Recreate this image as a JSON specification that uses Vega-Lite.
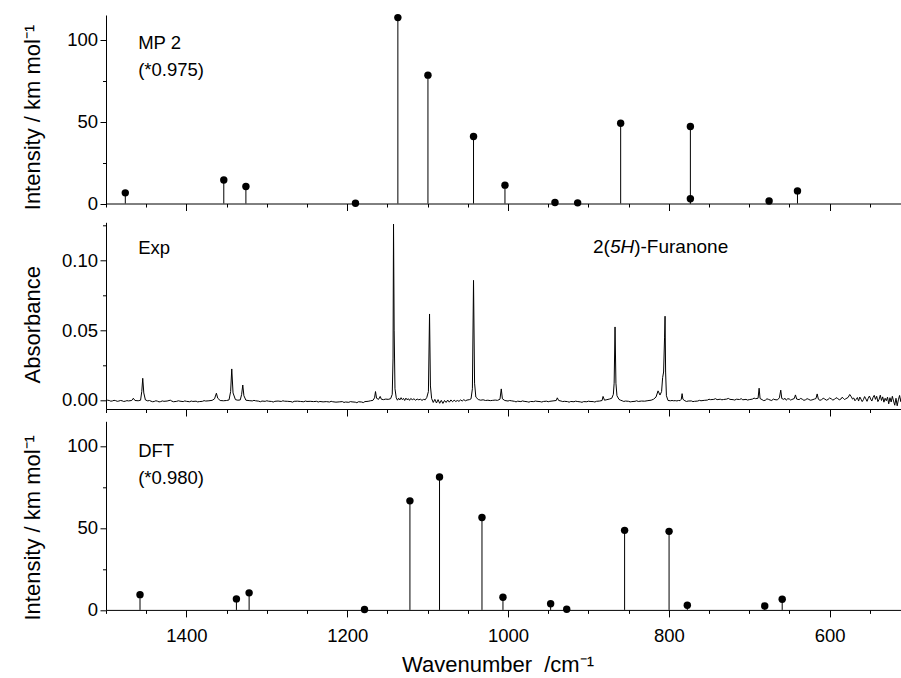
{
  "$schema": "https://vega.github.io/schema/vega-lite/v6.json",
  "padding": {"left": 20, "top": 13, "right": 0, "bottom": 0},
  "bounds": "flush",
  "spacing": 18.3,
  "config": {
    "font": "Liberation Sans",
    "view": {"stroke": null},
    "axis": {"domainColor": "#000", "tickColor": "#000", "labelColor": "#000", "titleColor": "#000", "grid": false, "labelFont": "Liberation Sans", "titleFont": "Liberation Sans", "labelFontSize": 18.5, "titleFontSize": 22, "titleFontWeight": "normal", "domainWidth": 1, "tickWidth": 1},
    "text": {"font": "Liberation Sans", "fontSize": 18.5, "color": "#000"}
  },
  "datasets": {
    "mp2": [
      {"w": 1476, "v": 6.5}, {"w": 1353.5, "v": 14.3}, {"w": 1326, "v": 10.4}, {"w": 1189.7, "v": 0.2},
      {"w": 1137, "v": 113.4}, {"w": 1099.6, "v": 78.3}, {"w": 1042.9, "v": 40.9}, {"w": 1003.8, "v": 11.2},
      {"w": 941.6, "v": 0.6}, {"w": 913.4, "v": 0.4}, {"w": 859.9, "v": 49}, {"w": 773.2, "v": 47},
      {"w": 773.2, "v": 2.9}, {"w": 675.3, "v": 1.5}, {"w": 640, "v": 7.7}
    ],
    "dft": [
      {"w": 1457.7, "v": 9.3}, {"w": 1337.8, "v": 6.7}, {"w": 1322, "v": 10.4}, {"w": 1178.5, "v": 0.2},
      {"w": 1122, "v": 66.5}, {"w": 1085.2, "v": 81}, {"w": 1032.4, "v": 56.3}, {"w": 1006.3, "v": 7.7},
      {"w": 947, "v": 3.7}, {"w": 927, "v": 0.4}, {"w": 855, "v": 48.5}, {"w": 799.7, "v": 47.9},
      {"w": 777, "v": 2.8}, {"w": 680.7, "v": 2.4}, {"w": 659, "v": 6.5}
    ],
    "notes": [
      {"p": "mp2", "w": 1460, "v": 94.5, "t": "MP 2"},
      {"p": "mp2", "w": 1460, "v": 77.9, "t": "(*0.975)"},
      {"p": "exp", "w": 1460, "v": 0.1046, "t": "Exp"},
      {"p": "dft", "w": 1460, "v": 93.3, "t": "DFT"},
      {"p": "dft", "w": 1460, "v": 77.0, "t": "(*0.980)"},
      {"p": "fur1", "w": 894.3, "v": 0.1053, "t": "2("},
      {"p": "fur2", "w": 894.3, "v": 0.1053, "t": "5H"},
      {"p": "fur3", "w": 894.3, "v": 0.1053, "t": ")-Furanone"}
    ],
    "exp": [
      {"w": 1500, "v": -0.0006}, {"w": 1498, "v": -0.0002}, {"w": 1496, "v": -0.0004}, {"w": 1494, "v": -0.0009}, {"w": 1492, "v": -0.0007}, {"w": 1490, "v": -0.0003}, {"w": 1488, "v": -0.0005},
      {"w": 1486, "v": -0.0010}, {"w": 1484, "v": -0.0008}, {"w": 1482, "v": -0.0004}, {"w": 1480, "v": -0.0006}, {"w": 1478, "v": -0.0011}, {"w": 1476, "v": -0.0009}, {"w": 1474, "v": -0.0005}, {"w": 1472, "v": -0.0007},
      {"w": 1468, "v": -0.0004}, {"w": 1466, "v": 0.0012}, {"w": 1464, "v": -0.0004}, {"w": 1460, "v": -0.0006},
      {"w": 1457, "v": -0.0002}, {"w": 1455.5, "v": 0.006}, {"w": 1454.3, "v": 0.0155}, {"w": 1453, "v": 0.005},
      {"w": 1451, "v": 0.0}, {"w": 1448, "v": -0.0007}, {"w": 1446, "v": -0.0004}, {"w": 1444, "v": -0.0009}, {"w": 1442, "v": -0.0013}, {"w": 1440, "v": -0.0011},
      {"w": 1438, "v": -0.0006}, {"w": 1436, "v": -0.0009}, {"w": 1434, "v": -0.0014}, {"w": 1432, "v": -0.0012}, {"w": 1430, "v": -0.0007}, {"w": 1428, "v": -0.001}, {"w": 1424, "v": -0.0008},
      {"w": 1420, "v": -0.0002}, {"w": 1418, "v": -0.0009}, {"w": 1416, "v": -0.0013}, {"w": 1412, "v": -0.001}, {"w": 1410, "v": -0.0006}, {"w": 1408, "v": -0.0009},
      {"w": 1404, "v": -0.0012}, {"w": 1402, "v": -0.0007}, {"w": 1400, "v": -0.001}, {"w": 1396, "v": -0.0013}, {"w": 1394, "v": -0.0008}, {"w": 1392, "v": -0.0011},
      {"w": 1388, "v": -0.0009}, {"w": 1386, "v": -0.0014}, {"w": 1384, "v": -0.0012}, {"w": 1380, "v": -0.001}, {"w": 1378, "v": -0.0005}, {"w": 1376, "v": -0.0008},
      {"w": 1372, "v": -0.0006}, {"w": 1368, "v": -0.0003}, {"w": 1365, "v": 0.0008}, {"w": 1362.7, "v": 0.0048},
      {"w": 1361, "v": 0.0012}, {"w": 1358, "v": -0.0004}, {"w": 1354, "v": -0.0006}, {"w": 1350, "v": -0.0004},
      {"w": 1347, "v": 0.0}, {"w": 1345, "v": 0.006}, {"w": 1343.6, "v": 0.0222}, {"w": 1342, "v": 0.005},
      {"w": 1339, "v": 0.0002}, {"w": 1336, "v": -0.0002}, {"w": 1333, "v": 0.0}, {"w": 1331.3, "v": 0.004},
      {"w": 1329.9, "v": 0.0107}, {"w": 1328.5, "v": 0.003}, {"w": 1326, "v": -0.0002}, {"w": 1322, "v": -0.0005},
      {"w": 1318, "v": -0.0007}, {"w": 1316, "v": -0.0003}, {"w": 1314, "v": -0.0006}, {"w": 1310, "v": -0.0009}, {"w": 1308, "v": -0.0013}, {"w": 1306, "v": -0.0008},
      {"w": 1302, "v": -0.001}, {"w": 1300, "v": -0.0006}, {"w": 1298, "v": -0.0009}, {"w": 1294, "v": -0.0011}, {"w": 1292, "v": -0.0015}, {"w": 1290, "v": -0.001},
      {"w": 1286, "v": -0.0008}, {"w": 1282, "v": -0.0011}, {"w": 1280, "v": -0.0006}, {"w": 1278, "v": -0.0009}, {"w": 1274, "v": -0.001},
      {"w": 1270, "v": -0.0012}, {"w": 1268, "v": -0.0016}, {"w": 1266, "v": -0.001}, {"w": 1262, "v": -0.0009}, {"w": 1258, "v": -0.0011},
      {"w": 1254, "v": -0.0013}, {"w": 1252, "v": -0.0008}, {"w": 1250, "v": -0.0011}, {"w": 1246, "v": -0.001}, {"w": 1242, "v": -0.0012},
      {"w": 1238, "v": -0.001}, {"w": 1236, "v": -0.0015}, {"w": 1234, "v": -0.0011}, {"w": 1230, "v": -0.0014}, {"w": 1226, "v": -0.0012},
      {"w": 1222, "v": -0.0015}, {"w": 1220, "v": -0.0010}, {"w": 1218, "v": -0.0013}, {"w": 1214, "v": -0.0016}, {"w": 1210, "v": -0.0014},
      {"w": 1206, "v": -0.0012}, {"w": 1204, "v": -0.0018}, {"w": 1202, "v": -0.0015}, {"w": 1198, "v": -0.0017}, {"w": 1196, "v": -0.0012}, {"w": 1194, "v": -0.0014},
      {"w": 1190, "v": -0.0016}, {"w": 1188, "v": -0.0020}, {"w": 1186, "v": -0.0013}, {"w": 1182, "v": -0.0015}, {"w": 1180, "v": -0.0019}, {"w": 1178, "v": -0.0012},
      {"w": 1174, "v": -0.001}, {"w": 1171, "v": -0.0006}, {"w": 1168, "v": -0.0003}, {"w": 1166, "v": 0.0015},
      {"w": 1164.8, "v": 0.006}, {"w": 1163.5, "v": 0.0012}, {"w": 1161, "v": 0.0004}, {"w": 1159, "v": 0.0025},
      {"w": 1157.5, "v": 0.0005}, {"w": 1155, "v": 0.0002}, {"w": 1152, "v": 0.0006}, {"w": 1149, "v": 0.0004},
      {"w": 1146, "v": 0.0009}, {"w": 1144, "v": 0.004}, {"w": 1143, "v": 0.03}, {"w": 1142.4, "v": 0.126},
      {"w": 1141.6, "v": 0.05}, {"w": 1140.6, "v": 0.008}, {"w": 1139, "v": 0.0015}, {"w": 1137.5, "v": -0.0002},
      {"w": 1136, "v": 0.0012}, {"w": 1134.5, "v": 0.0}, {"w": 1133, "v": 0.0016}, {"w": 1131.5, "v": 0.0002},
      {"w": 1130, "v": 0.0011}, {"w": 1128.5, "v": -0.0004}, {"w": 1127, "v": 0.0013}, {"w": 1125.5, "v": 0.0001},
      {"w": 1124, "v": 0.0009}, {"w": 1122.5, "v": -0.0003}, {"w": 1121, "v": 0.001}, {"w": 1119, "v": 0.0002},
      {"w": 1117, "v": 0.0008}, {"w": 1115, "v": -0.0002}, {"w": 1113, "v": 0.0006}, {"w": 1111, "v": 0.0001},
      {"w": 1109, "v": 0.0005}, {"w": 1107, "v": -0.0003}, {"w": 1105, "v": 0.0004}, {"w": 1103, "v": 0.0001},
      {"w": 1101, "v": 0.0018},
      {"w": 1099, "v": 0.006}, {"w": 1097.6, "v": 0.0616}, {"w": 1096.5, "v": 0.01}, {"w": 1095, "v": 0.001},
      {"w": 1093, "v": -0.0018}, {"w": 1091, "v": 0.0004}, {"w": 1089, "v": -0.0022}, {"w": 1087, "v": 0.0002},
      {"w": 1085, "v": -0.0024}, {"w": 1083, "v": -0.0003}, {"w": 1081, "v": -0.0025}, {"w": 1079, "v": -0.0004},
      {"w": 1077, "v": -0.0018}, {"w": 1075, "v": -0.0001}, {"w": 1073, "v": -0.0016}, {"w": 1071, "v": 0.0},
      {"w": 1069, "v": -0.0013}, {"w": 1067, "v": -0.0002}, {"w": 1065, "v": -0.0011}, {"w": 1063, "v": -0.0004}, {"w": 1061, "v": -0.0010},
      {"w": 1059, "v": 0.0}, {"w": 1057, "v": -0.0008}, {"w": 1055, "v": 0.0002}, {"w": 1053, "v": -0.0006}, {"w": 1051, "v": -0.0001},
      {"w": 1048, "v": 0.0002},
      {"w": 1046, "v": 0.0008}, {"w": 1044.3, "v": 0.008}, {"w": 1042.9, "v": 0.0857}, {"w": 1041.6, "v": 0.012},
      {"w": 1040, "v": 0.002}, {"w": 1037, "v": 0.0003}, {"w": 1034, "v": -0.0002}, {"w": 1031, "v": 0.0001},
      {"w": 1028, "v": -0.0004}, {"w": 1025, "v": -0.0002}, {"w": 1022, "v": -0.0005}, {"w": 1019, "v": -0.0003},
      {"w": 1016, "v": -0.0001}, {"w": 1013, "v": -0.0003}, {"w": 1010, "v": 0.0005}, {"w": 1008.4, "v": 0.0079},
      {"w": 1007, "v": 0.0008}, {"w": 1004, "v": -0.0004}, {"w": 1000, "v": -0.0008}, {"w": 998, "v": -0.0004}, {"w": 996, "v": -0.0006},
      {"w": 992, "v": -0.001}, {"w": 990, "v": -0.0014}, {"w": 988, "v": -0.0009}, {"w": 984, "v": -0.0012}, {"w": 982, "v": -0.0007}, {"w": 980, "v": -0.001},
      {"w": 976, "v": -0.0013}, {"w": 974, "v": -0.0016}, {"w": 972, "v": -0.0011}, {"w": 968, "v": -0.0012}, {"w": 966, "v": -0.0008}, {"w": 964, "v": -0.001},
      {"w": 960, "v": -0.0012}, {"w": 958, "v": -0.0015}, {"w": 956, "v": -0.0011}, {"w": 952, "v": -0.0009}, {"w": 950, "v": -0.0013}, {"w": 948, "v": -0.001},
      {"w": 944, "v": -0.0007}, {"w": 940, "v": -0.0004}, {"w": 938.7, "v": 0.0015}, {"w": 937, "v": -0.0004},
      {"w": 934, "v": -0.0008}, {"w": 932, "v": -0.0012}, {"w": 930, "v": -0.001}, {"w": 926, "v": -0.0012}, {"w": 924, "v": -0.0016}, {"w": 922, "v": -0.0011},
      {"w": 918, "v": -0.0013}, {"w": 916, "v": -0.0009}, {"w": 914, "v": -0.0011}, {"w": 910, "v": -0.0014}, {"w": 908, "v": -0.0017}, {"w": 906, "v": -0.0012},
      {"w": 902, "v": -0.0013}, {"w": 900, "v": -0.0009}, {"w": 898, "v": -0.0011}, {"w": 894, "v": -0.0012}, {"w": 892, "v": -0.0015}, {"w": 890, "v": -0.001},
      {"w": 886, "v": -0.0008}, {"w": 883, "v": -0.0004}, {"w": 881.8, "v": 0.0025}, {"w": 880, "v": -0.0002},
      {"w": 877, "v": 0.0002}, {"w": 874, "v": 0.0006}, {"w": 871, "v": 0.0012}, {"w": 869, "v": 0.004},
      {"w": 868, "v": 0.012}, {"w": 866.9, "v": 0.0523}, {"w": 865.8, "v": 0.012}, {"w": 864.5, "v": 0.003},
      {"w": 862, "v": 0.0004}, {"w": 860, "v": -0.0002}, {"w": 858, "v": -0.0006}, {"w": 856, "v": -0.0011}, {"w": 854, "v": -0.0008}, {"w": 850, "v": -0.001},
      {"w": 848, "v": -0.0014}, {"w": 846, "v": -0.0012}, {"w": 842, "v": -0.001}, {"w": 840, "v": -0.0006}, {"w": 838, "v": -0.0011}, {"w": 834, "v": -0.0008},
      {"w": 830, "v": -0.0009}, {"w": 826, "v": -0.0005}, {"w": 822, "v": -0.0002}, {"w": 819, "v": 0.0005},
      {"w": 816, "v": 0.002}, {"w": 813.4, "v": 0.0065}, {"w": 811, "v": 0.0035}, {"w": 809, "v": 0.006},
      {"w": 807.7, "v": 0.016}, {"w": 806.5, "v": 0.02}, {"w": 805.3, "v": 0.045}, {"w": 804.7, "v": 0.06},
      {"w": 804, "v": 0.02}, {"w": 803, "v": 0.003}, {"w": 801, "v": -0.0004}, {"w": 798, "v": -0.0006},
      {"w": 796, "v": -0.0004}, {"w": 794, "v": -0.0006}, {"w": 792, "v": -0.0005}, {"w": 790, "v": -0.0007},
      {"w": 788, "v": -0.0004}, {"w": 786, "v": -0.0005}, {"w": 784.5, "v": 0.0005}, {"w": 783.5, "v": 0.0045},
      {"w": 782.5, "v": 0.0005}, {"w": 780, "v": -0.0006}, {"w": 778, "v": -0.0011}, {"w": 776, "v": -0.0008}, {"w": 772, "v": -0.0007},
      {"w": 770, "v": -0.0012}, {"w": 768, "v": -0.001}, {"w": 764, "v": -0.0008}, {"w": 762, "v": -0.0003}, {"w": 760, "v": -0.0006}, {"w": 756, "v": -0.0003},
      {"w": 752, "v": -0.0001}, {"w": 750, "v": 0.0005}, {"w": 748, "v": 0.0002}, {"w": 744, "v": 0.0004}, {"w": 742, "v": 0.0009}, {"w": 740, "v": 0.0002},
      {"w": 736, "v": 0.0005}, {"w": 734, "v": 0.0001}, {"w": 732, "v": 0.0003}, {"w": 728, "v": 0.0006}, {"w": 726, "v": 0.0011}, {"w": 724, "v": 0.0004},
      {"w": 720, "v": 0.0002}, {"w": 718, "v": -0.0001}, {"w": 716, "v": 0.0005}, {"w": 712, "v": 0.0003}, {"w": 710, "v": 0.0009}, {"w": 708, "v": 0.0001},
      {"w": 704, "v": 0.0004}, {"w": 702, "v": -0.0001}, {"w": 700, "v": 0.0002}, {"w": 696, "v": 0.0006}, {"w": 694, "v": 0.0013}, {"w": 692, "v": 0.0009},
      {"w": 689, "v": 0.0012}, {"w": 687.7, "v": 0.0084}, {"w": 686.5, "v": 0.001}, {"w": 684, "v": 0.0002},
      {"w": 682, "v": -0.0005}, {"w": 680, "v": -0.0002}, {"w": 678, "v": 0.0008}, {"w": 676, "v": 0.0004}, {"w": 674, "v": -0.0001}, {"w": 672, "v": -0.0004}, {"w": 670, "v": 0.0006}, {"w": 668, "v": 0.0002},
      {"w": 665, "v": 0.0}, {"w": 662.5, "v": 0.0015}, {"w": 660.8, "v": 0.007}, {"w": 659.5, "v": 0.001},
      {"w": 657, "v": 0.0004}, {"w": 655.5, "v": 0.0012}, {"w": 654, "v": -0.0002}, {"w": 652, "v": 0.0009}, {"w": 650, "v": 0.0006}, {"w": 648.5, "v": -0.0001}, {"w": 647, "v": 0.0003},
      {"w": 644, "v": 0.001}, {"w": 642.5, "v": 0.0036}, {"w": 641, "v": 0.0006}, {"w": 638, "v": 0.0002},
      {"w": 636, "v": 0.0011}, {"w": 634, "v": 0.0005}, {"w": 632, "v": -0.0003}, {"w": 630, "v": 0.0001}, {"w": 628, "v": 0.0009}, {"w": 626, "v": 0.0004}, {"w": 624, "v": -0.0002}, {"w": 622, "v": 0.0},
      {"w": 619, "v": 0.0006}, {"w": 617, "v": 0.001}, {"w": 615.5, "v": 0.0043}, {"w": 614, "v": 0.0005},
      {"w": 612, "v": -0.0003}, {"w": 610, "v": 0.0002}, {"w": 608, "v": 0.0012}, {"w": 606, "v": 0.0006}, {"w": 604, "v": -0.0002}, {"w": 602, "v": 0.0003}, {"w": 600, "v": 0.0014}, {"w": 598, "v": 0.0008},
      {"w": 596, "v": -0.0001}, {"w": 594, "v": 0.0004}, {"w": 592, "v": 0.0016}, {"w": 590, "v": 0.001}, {"w": 588, "v": 0.0001}, {"w": 586, "v": 0.0006}, {"w": 584.5, "v": 0.0019}, {"w": 583, "v": 0.0012},
      {"w": 581.5, "v": 0.0003}, {"w": 580, "v": 0.0008}, {"w": 577, "v": 0.0018}, {"w": 575, "v": 0.0039}, {"w": 573, "v": 0.0022},
      {"w": 571.5, "v": 0.0006}, {"w": 570, "v": 0.0014}, {"w": 568.5, "v": -0.0006}, {"w": 567, "v": 0.0004}, {"w": 565.5, "v": 0.0017}, {"w": 564, "v": -0.0008}, {"w": 562.5, "v": 0.0021}, {"w": 561, "v": 0.0006},
      {"w": 559.5, "v": -0.0012}, {"w": 558, "v": 0.0002}, {"w": 556.5, "v": 0.0024}, {"w": 555, "v": 0.0008}, {"w": 553.5, "v": -0.001}, {"w": 552, "v": 0.0012}, {"w": 550.5, "v": 0.0028}, {"w": 549, "v": 0.0006},
      {"w": 547.5, "v": -0.0008}, {"w": 546, "v": 0.0018}, {"w": 544.5, "v": 0.0033}, {"w": 543, "v": 0.0004}, {"w": 541.5, "v": 0.0026}, {"w": 540, "v": -0.0012},
      {"w": 538.5, "v": 0.0004}, {"w": 537, "v": 0.0034}, {"w": 535.5, "v": -0.0004}, {"w": 534, "v": 0.0022}, {"w": 532.5, "v": -0.0016}, {"w": 531, "v": 0.0012},
      {"w": 529.5, "v": -0.0006}, {"w": 528, "v": 0.002}, {"w": 526.5, "v": -0.0028}, {"w": 525, "v": 0.0016}, {"w": 523.5, "v": -0.0015}, {"w": 522, "v": 0.0026},
      {"w": 520.5, "v": -0.0008}, {"w": 519, "v": -0.0038}, {"w": 517.5, "v": 0.0012}, {"w": 516, "v": -0.0042}, {"w": 514.5, "v": 0.0001},
      {"w": 513, "v": 0.0032}, {"w": 511.5, "v": -0.0012}, {"w": 510, "v": 0.0038}
    ]
  },
  "vconcat": [
    {
      "width": 796,
      "height": 188.5,
      "data": {"name": "mp2"},
      "encoding": {
        "x": {"field": "w", "type": "quantitative", "scale": {"domain": [1500, 510], "nice": false, "zero": false},
          "axis": {"values": [1500, 1450, 1400, 1350, 1300, 1250, 1200, 1150, 1100, 1050, 1000, 950, 900, 850, 800, 750, 700, 650, 600, 550], "labels": false, "title": null,
            "tickSize": {"condition": {"test": "datum.value % 200 === 0", "value": 7}, "value": 3.5}}},
        "y": {"field": "v", "type": "quantitative", "scale": {"domain": [0, 115], "nice": false, "zero": false},
          "axis": {"values": [0, 25, 50, 75, 100], "labelExpr": "datum.value % 50 === 0 ? datum.label : ''",
            "tickSize": {"condition": {"test": "datum.value % 50 === 0", "value": 6}, "value": 3.5}, "labelPadding": 2.5,
            "title": "Intensity / km mol⁻¹", "titleX": -67, "titleY": 102, "titleAlign": "center", "titleAngle": -90, "titleBaseline": "alphabetic"}}
      },
      "layer": [
        {"mark": {"type": "rule", "color": "#000", "strokeWidth": 1}, "encoding": {"y2": {"datum": 0}}},
        {"mark": {"type": "circle", "color": "#000", "size": 55, "opacity": 1, "clip": false}},
        {"data": {"name": "notes"}, "transform": [{"filter": "datum.p === 'mp2'"}],
          "mark": {"type": "text", "align": "left", "baseline": "alphabetic"}, "encoding": {"text": {"field": "t"}}}
      ]
    },
    {
      "bounds": "flush",
      "spacing": 12,
      "vconcat": [
        {
          "width": 796,
          "height": 186.7,
          "data": {"name": "exp"},
          "encoding": {
            "x": {"field": "w", "type": "quantitative", "scale": {"domain": [1500, 510], "nice": false, "zero": false},
              "axis": {"values": [1500, 1450, 1400, 1350, 1300, 1250, 1200, 1150, 1100, 1050, 1000, 950, 900, 850, 800, 750, 700, 650, 600, 550], "labels": false, "title": null,
                "tickSize": {"condition": {"test": "datum.value % 200 === 0", "value": 7}, "value": 3.5}}},
            "y": {"field": "v", "type": "quantitative", "scale": {"domain": [-0.0065, 0.1273], "nice": false, "zero": false},
              "axis": {"values": [0, 0.025, 0.05, 0.075, 0.1, 0.125], "format": ".2f",
                "labelExpr": "abs(datum.value - round(datum.value / 0.05) * 0.05) < 0.000001 ? datum.label : ''",
                "tickSize": {"condition": {"test": "abs(datum.value - round(datum.value / 0.05) * 0.05) < 0.000001", "value": 6}, "value": 3.5}, "labelPadding": 2.5,
                "title": "Absorbance", "titleX": -67, "titleY": 102, "titleAlign": "center", "titleAngle": -90, "titleBaseline": "alphabetic"}}
          },
          "layer": [
            {"mark": {"type": "line", "color": "#000", "strokeWidth": 1, "clip": true}},
            {"data": {"name": "notes"}, "transform": [{"filter": "datum.p === 'exp'"}],
              "mark": {"type": "text", "align": "left", "baseline": "alphabetic"}, "encoding": {"text": {"field": "t"}}},
            {"data": {"name": "notes"}, "transform": [{"filter": "datum.p === 'fur1'"}],
              "mark": {"type": "text", "align": "left", "baseline": "alphabetic", "fontSize": 19}, "encoding": {"text": {"field": "t"}}},
            {"data": {"name": "notes"}, "transform": [{"filter": "datum.p === 'fur2'"}],
              "mark": {"type": "text", "align": "left", "baseline": "alphabetic", "fontSize": 19, "fontStyle": "italic", "dx": 16.9}, "encoding": {"text": {"field": "t"}}},
            {"data": {"name": "notes"}, "transform": [{"filter": "datum.p === 'fur3'"}],
              "mark": {"type": "text", "align": "left", "baseline": "alphabetic", "fontSize": 19, "dx": 41.2}, "encoding": {"text": {"field": "t"}}}
          ]
        },
        {
          "width": 796,
          "height": 188.6,
          "data": {"name": "dft"},
          "encoding": {
            "x": {"field": "w", "type": "quantitative", "scale": {"domain": [1500, 510], "nice": false, "zero": false},
              "axis": {"values": [1500, 1450, 1400, 1350, 1300, 1250, 1200, 1150, 1100, 1050, 1000, 950, 900, 850, 800, 750, 700, 650, 600, 550], "format": "d",
                "labelExpr": "datum.value % 200 === 0 ? datum.label : ''", "labelPadding": 9.5,
                "tickSize": {"condition": {"test": "datum.value % 200 === 0", "value": 7}, "value": 3.5},
                "title": "Wavenumber \u00a0/cm⁻¹", "titleX": 391.5, "titleY": 61.5, "titleAlign": "center", "titleBaseline": "alphabetic"}},
            "y": {"field": "v", "type": "quantitative", "scale": {"domain": [0, 115], "nice": false, "zero": false},
              "axis": {"values": [0, 25, 50, 75, 100], "labelExpr": "datum.value % 50 === 0 ? datum.label : ''",
                "tickSize": {"condition": {"test": "datum.value % 50 === 0", "value": 6}, "value": 3.5}, "labelPadding": 2.5,
                "title": "Intensity / km mol⁻¹", "titleX": -67, "titleY": 106, "titleAlign": "center", "titleAngle": -90, "titleBaseline": "alphabetic"}}
          },
          "layer": [
            {"mark": {"type": "rule", "color": "#000", "strokeWidth": 1}, "encoding": {"y2": {"datum": 0}}},
            {"mark": {"type": "circle", "color": "#000", "size": 55, "opacity": 1, "clip": false}},
            {"data": {"name": "notes"}, "transform": [{"filter": "datum.p === 'dft'"}],
              "mark": {"type": "text", "align": "left", "baseline": "alphabetic"}, "encoding": {"text": {"field": "t"}}}
          ]
        }
      ]
    }
  ]
}
